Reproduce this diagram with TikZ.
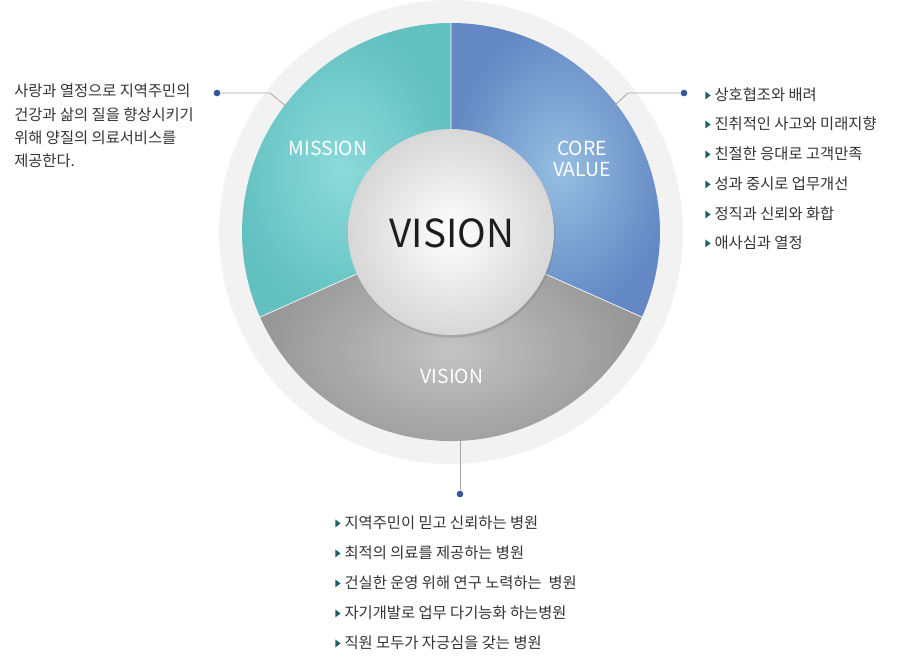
\documentclass[tikz,border=0pt]{standalone}
\usepackage{fontspec}
\setmainfont{Noto Sans CJK KR}
\usetikzlibrary{shadows,shadings}
\definecolor{ringc}{HTML}{F2F2F2}
\definecolor{dotc}{HTML}{34589A}
\definecolor{txt}{HTML}{333333}
\definecolor{tri}{HTML}{1F5F66}
\tikzset{
 lead/.style={draw=gray!70,line width=0.6pt},
 dotn/.style={circle,fill=dotc,inner sep=0pt,minimum size=5pt},
 item/.style={anchor=west,font=\fontsize{11.5pt}{12pt}\selectfont,text=txt,inner sep=0pt},
 seclab/.style={text=white,font=\fontsize{14.5pt}{16pt}\selectfont,align=center},
}
\newcommand{\bul}{\tikz[baseline=-1pt]\fill[tri](0,0)--(0,6pt)--(4pt,3pt)--cycle;\hspace{3pt}}
\begin{document}
\begin{tikzpicture}[x=0.75pt,y=-0.75pt]
\useasboundingbox (0,0) rectangle (901,665);
\coordinate (c) at (451,232);
\fill[ringc] (c) circle (232);
% sectors
\shade[inner color={rgb,255:red,140;green,218;blue,218}, outer color={rgb,255:red,98;green,192;blue,192}] (c) -- ++(-90:209) arc (-90:-204:209) -- cycle;
\shade[inner color={rgb,255:red,150;green,190;blue,225}, outer color={rgb,255:red,100;green,136;blue,196}] (c) -- ++(-90:209) arc (-90:24:209) -- cycle;
\shade[inner color={rgb,255:red,195;green,195;blue,195}, outer color={rgb,255:red,150;green,150;blue,150}] (c) -- ++(-204:209) arc (-204:-336:209) -- cycle;
\draw[white,line width=0.5pt] (c) -- ++(-90:209) (c) -- ++(-204:209) (c) -- ++(24:209);
\shade[inner color=white, outer color={rgb,255:red,215;green,215;blue,215},drop shadow={opacity=0.35,shadow xshift=1pt,shadow yshift=-2pt}] (c) circle (103);
\node[font=\fontsize{29pt}{30pt}\selectfont,text={rgb,255:red,30;green,30;blue,30}] (v) at (452,233) {VISION};
\node[seclab] (m) at (328,148) {MISSION};
\node[seclab] (cv) at (582,159) {CORE\\VALUE};
\node[seclab] (vl) at (452,376) {VISION};
% leaders
\node[dotn] (d1) at (217,93) {};
\coordinate (k1) at (270,93); \coordinate (e1) at (287,107);
\draw[lead] (d1) -- (k1) -- (e1);
\node[dotn] (d2) at (684,93) {};
\coordinate (k2) at (628,93); \coordinate (e2) at (614,106);
\draw[lead] (d2) -- (k2) -- (e2);
\node[dotn] (d3) at (460,494) {};
\coordinate (e3) at (460,440);
\draw[lead] (d3) -- (e3);
% texts
\node[anchor=north west,text=txt,font=\fontsize{11.5pt}{17.3pt}\selectfont,align=left,inner sep=0pt] (t1) at (14,84) {사랑과 열정으로 지역주민의\\건강과 삶의 질을 향상시키기\\위해 양질의 의료서비스를\\제공한다.};
\node[item] (r1) at (705,95) {\bul 상호협조와 배려};
\node[item] (r2) at (705,124) {\bul 진취적인 사고와 미래지향};
\node[item] (r3) at (705,154) {\bul 친절한 응대로 고객만족};
\node[item] (r4) at (705,184) {\bul 성과 중시로 업무개선};
\node[item] (r5) at (705,214) {\bul 정직과 신뢰와 화합};
\node[item] (r6) at (705,243) {\bul 애사심과 열정};
\node[item] (b1) at (335,523) {\bul 지역주민이 믿고 신뢰하는 병원};
\node[item] (b2) at (335,553) {\bul 최적의 의료를 제공하는 병원};
\node[item] (b3) at (335,583) {\bul 건실한 운영 위해 연구 노력하는~~병원};
\node[item] (b4) at (335,613) {\bul 자기개발로 업무 다기능화 하는병원};
\node[item] (b5) at (335,643) {\bul 직원 모두가 자긍심을 갖는 병원};
\end{tikzpicture}
\end{document}
